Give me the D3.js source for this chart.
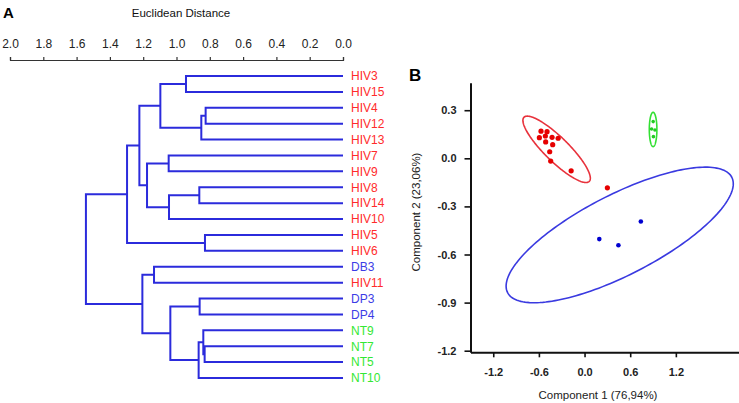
<!DOCTYPE html>
<html>
<head>
<meta charset="utf-8">
<script src="https://cdn.jsdelivr.net/npm/d3@7"></script>
<style>
  html, body { margin: 0; padding: 0; background: #fff; }
  svg { display: block; font-family: "Liberation Sans", Arial, sans-serif; }
</style>
</head>
<body>
<svg id="chart" width="739" height="403"></svg>
<script>
// ---------- Panel A data: dendrogram ----------
const leaves = ["HIV3","HIV15","HIV4","HIV12","HIV13","HIV7","HIV9","HIV8","HIV14","HIV10",
                "HIV5","HIV6","DB3","HIV11","DP3","DP4","NT9","NT7","NT5","NT10"];
const leafGroups = ["HIV","HIV","HIV","HIV","HIV","HIV","HIV","HIV","HIV","HIV",
                    "HIV","HIV","DB","HIV","DP","DP","NT","NT","NT","NT"];
// merges: [childA, childB, distance]; indices < 20 are leaves, >= 20 are earlier merges
const merges = [
  [0, 1, 0.943],   // 20
  [2, 3, 0.825],   // 21
  [21, 4, 0.851],  // 22
  [20, 22, 1.097], // 23
  [5, 6, 1.047],   // 24
  [7, 8, 0.863],   // 25
  [25, 9, 1.045],  // 26
  [24, 26, 1.177], // 27
  [23, 27, 1.223], // 28
  [10, 11, 0.829], // 29
  [28, 29, 1.297], // 30
  [12, 13, 1.135], // 31
  [14, 15, 0.861], // 32
  [17, 18, 0.831], // 33
  [16, 33, 0.839], // 34
  [34, 19, 0.867], // 35
  [32, 35, 1.037], // 36
  [31, 36, 1.205], // 37
  [30, 37, 1.544]  // 38
];
const distTicks = [2.0, 1.8, 1.6, 1.4, 1.2, 1.0, 0.8, 0.6, 0.4, 0.2, 0.0];

// ---------- Panel B data: PCA scores ----------
const hivPC1 = [-0.572, -0.493, -0.594, -0.515, -0.427, -0.347, -0.511, -0.419, -0.458, -0.445, -0.176, 0.300];
const hivPC2 = [ 0.169,  0.166,  0.129,  0.139,  0.131,  0.125,  0.102,  0.085,  0.041, -0.017, -0.078, -0.184];
const ntPC1 = [0.902, 0.881, 0.925, 0.905];
const ntPC2 = [0.229, 0.183, 0.177, 0.135];
const dpPC1 = [0.740, 0.194, 0.445];
const dpPC2 = [-0.394, -0.504, -0.542];
const pcaXTicks = [-1.2, -0.6, 0.0, 0.6, 1.2];
const pcaYTicks = [0.3, 0.0, -0.3, -0.6, -0.9, -1.2];
// confidence ellipses: centre, major and minor semi-axis vectors (data units)
const ellipseNames = ["HIV", "NT", "DP"];
const ellipseCenters = [[-0.367, 0.056], [0.901, 0.180], [0.462, -0.478]];
const ellipseMajor   = [[0.429, -0.200], [0.0, 0.107], [1.473, 0.360]];
const ellipseMinor   = [[-0.111, -0.0535], [0.050, 0.0], [0.243, -0.222]];

// ---------- styles ----------
const labelColor = { HIV: "#ff2b2b", DB: "#3c3ce6", DP: "#3c3ce6", NT: "#33e833" };
const pointColor = { HIV: "#e60000", NT: "#22cc22", DP: "#0000d0" };
const ellipseColor = { HIV: "#e8323c", NT: "#33e033", DP: "#3a3ae0" };
const treeColor = "#2b2bdc";

const svg = d3.select("#chart");

// ================= Panel A =================
const xD = d3.scaleLinear().domain([2.0, 0.0]).range([10, 343]);
const yD = d3.scalePoint().domain(leaves).range([76, 378]);

// compute node positions
const nodeX = [], nodeY = [];
leaves.forEach((l, i) => { nodeX[i] = xD(0); nodeY[i] = yD(l); });
merges.forEach((m, k) => {
  const id = leaves.length + k;
  nodeX[id] = xD(m[2]);
  nodeY[id] = (nodeY[m[0]] + nodeY[m[1]]) / 2;
});

const gA = svg.append("g");
gA.append("text").attr("x", 3).attr("y", 18).attr("font-size", 15).attr("font-weight", "bold").text("A");
gA.append("text").attr("x", 181).attr("y", 17).attr("text-anchor", "middle").attr("font-size", 11.5)
  .attr("fill", "#111").text("Euclidean Distance");

const axA = gA.append("g").attr("transform", "translate(0,60)")
  .call(d3.axisTop(xD).tickValues(distTicks).tickSize(3).tickSizeOuter(3).tickPadding(9)
    .tickFormat(d => d.toFixed(1)));
axA.select(".domain").attr("stroke", "#333").attr("stroke-width", 1.2);
axA.selectAll(".tick line").attr("stroke", "#333").attr("stroke-width", 1.2);
axA.selectAll("text").attr("font-size", 12).attr("fill", "#222").attr("font-family", "Liberation Sans, Arial, sans-serif");

// elbows
const tree = gA.append("g").attr("fill", "none").attr("stroke", treeColor).attr("stroke-width", 2);
merges.forEach((m, k) => {
  const id = leaves.length + k;
  const x = nodeX[id];
  const [a, b] = [m[0], m[1]];
  tree.append("path").attr("d",
    `M${nodeX[a]},${nodeY[a]}H${x}V${nodeY[b]}H${nodeX[b]}`);
});

gA.append("g").selectAll("text").data(leaves).join("text")
  .attr("x", xD(0) + 8).attr("y", d => yD(d)).attr("dy", "0.36em")
  .attr("font-size", 12).attr("fill", (d, i) => labelColor[leafGroups[i]]).text(d => d);

// ================= Panel B =================
const xP = d3.scaleLinear().domain([-1.499, 2.03]).range([470.5, 739]);
const yP = d3.scaleLinear().domain([-1.21, 0.4716]).range([352.3, 82.7]);

const gB = svg.append("g");
gB.append("text").attr("x", 409).attr("y", 81).attr("font-size", 17).attr("font-weight", "bold").text("B");

// ellipses
const eLine = d3.line().x(p => xP(p[0])).y(p => yP(p[1])).curve(d3.curveLinearClosed);
const tSteps = d3.range(0, 2 * Math.PI, Math.PI / 90);
ellipseNames.forEach((name, i) => {
  const c = ellipseCenters[i], M = ellipseMajor[i], m = ellipseMinor[i];
  const pts = tSteps.map(t => [c[0] + Math.cos(t) * M[0] + Math.sin(t) * m[0],
                               c[1] + Math.cos(t) * M[1] + Math.sin(t) * m[1]]);
  gB.append("path").attr("d", eLine(pts)).attr("fill", "none")
    .attr("stroke", ellipseColor[name]).attr("stroke-width", 1.6);
});

// points
function drawPoints(xs, ys, color, r) {
  gB.append("g").selectAll("circle").data(xs).join("circle")
    .attr("cx", d => xP(d)).attr("cy", (d, i) => yP(ys[i])).attr("r", r).attr("fill", color);
}
drawPoints(hivPC1, hivPC2, pointColor.HIV, 2.6);
drawPoints(ntPC1, ntPC2, pointColor.NT, 1.8);
drawPoints(dpPC1, dpPC2, pointColor.DP, 2.3);

// axes
const axY = gB.append("g").attr("transform", `translate(${xP.range()[0]},0)`)
  .call(d3.axisLeft(yP).tickValues(pcaYTicks).tickSize(6).tickSizeOuter(0).tickPadding(8)
    .tickFormat(d => d.toFixed(1)));
const axX = gB.append("g").attr("transform", `translate(0,${yP.range()[0]})`)
  .call(d3.axisBottom(xP).tickValues(pcaXTicks).tickSize(5).tickSizeOuter(0).tickPadding(11)
    .tickFormat(d => d.toFixed(1)));
[axY, axX].forEach(ax => {
  ax.select(".domain").attr("stroke", "#111").attr("stroke-width", 2);
  ax.selectAll(".tick line").attr("stroke", "#111").attr("stroke-width", 1.6);
  ax.selectAll("text").attr("font-size", 11).attr("font-weight", "bold").attr("fill", "#222")
    .attr("font-family", "Liberation Sans, Arial, sans-serif");
});

gB.append("text").attr("x", 598).attr("y", 399).attr("text-anchor", "middle")
  .attr("font-size", 11.5).attr("fill", "#222").text("Component 1 (76,94%)");
gB.append("text").attr("transform", "translate(420,212) rotate(-90)").attr("text-anchor", "middle")
  .attr("font-size", 11.5).attr("fill", "#222").text("Component 2 (23,06%)");
</script>
</body>
</html>
